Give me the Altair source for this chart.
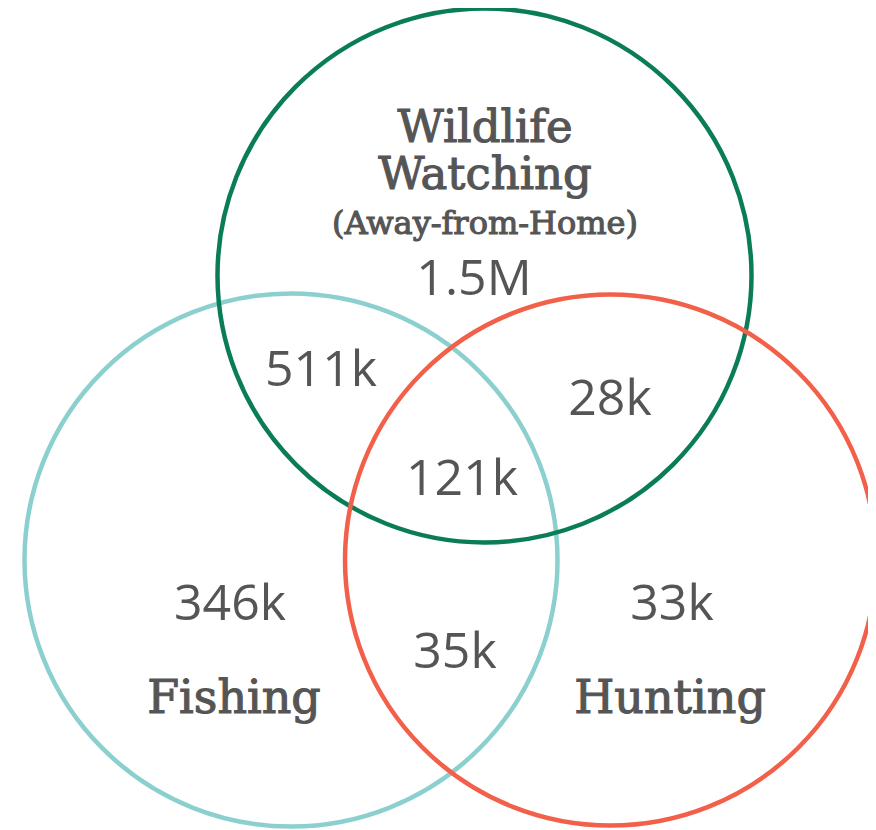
import altair as alt
import pandas as pd

# --- circles (sets) ---
set_names = ["Fishing", "Wildlife Watching", "Hunting"]
set_colors = ["#8ccfcf", "#0a7d58", "#f2604a"]
# layout (screen-pixel coordinates)
set_cx = [291, 484.5, 610.5]
set_cy = [560, 275.5, 560]
set_r = [266.5, 267, 265.5]

# --- region values ---
region_labels = ["1.5M", "511k", "28k", "121k", "346k", "35k", "33k"]
region_x = [474, 321, 610, 462, 230, 455, 672]
region_y = [295, 386, 415, 495, 620, 668, 620]

# --- set titles ---
title_text = ["Wildlife", "Watching", "(Away-from-Home)", "Fishing", "Hunting"]
title_x = [485, 485, 485, 234, 670]
title_y = [142, 189, 234, 713, 713]
title_size = [45, 45, 32, 46, 46]

TEXT_COLOR = "#555555"

circles = pd.DataFrame({
    "name": set_names,
    "x": set_cx,
    "y": set_cy,
    # Vega circle symbol: radius = sqrt(size) / 2
    "area": [(2 * r) ** 2 for r in set_r],
    "color": set_colors,
})
regions = pd.DataFrame({"label": region_labels, "x": region_x, "y": region_y})
titles = pd.DataFrame({"label": title_text, "x": title_x, "y": title_y, "size": title_size})

W, H = 860, 822
xs = alt.Scale(domain=[8, 8 + W], range=[0, W])
ys = alt.Scale(domain=[8 + H, 8])

circle_layer = alt.Chart(circles).mark_point(
    shape="circle", filled=False, strokeWidth=4.5, opacity=1
).encode(
    x=alt.X("x:Q", scale=xs, axis=None),
    y=alt.Y("y:Q", scale=ys, axis=None),
    size=alt.Size("area:Q", scale=None, legend=None),
    color=alt.Color("color:N", scale=None, legend=None),
)

region_layer = alt.Chart(regions).mark_text(
    font="Open Sans", fontSize=50, fontWeight="normal", color=TEXT_COLOR,
    align="center", baseline="alphabetic",
).encode(
    x=alt.X("x:Q", scale=xs, axis=None),
    y=alt.Y("y:Q", scale=ys, axis=None),
    text="label:N",
)

title_layer = alt.Chart(titles).mark_text(
    font="DejaVu Serif", color=TEXT_COLOR, align="center", baseline="alphabetic",
    stroke=TEXT_COLOR, strokeWidth=1.1,
).encode(
    x=alt.X("x:Q", scale=xs, axis=None),
    y=alt.Y("y:Q", scale=ys, axis=None),
    text="label:N",
    size=alt.Size("size:Q", scale=None, legend=None),
)

chart = alt.layer(circle_layer, region_layer, title_layer).properties(
    width=W, height=H, padding=0, autosize=alt.AutoSizeParams(type="none"),
).configure_view(stroke=None)

chart.save("out.html", embed_options={"renderer": "svg", "actions": False})
